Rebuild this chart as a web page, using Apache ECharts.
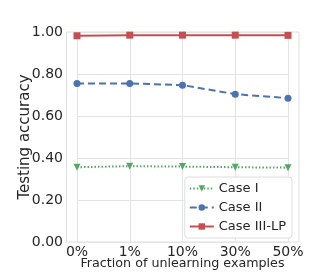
<!DOCTYPE html>
<html><head><meta charset="utf-8">
<script src="https://cdn.jsdelivr.net/npm/echarts@6/dist/echarts.min.js"></script>
<style>html,body{margin:0;padding:0;background:#fff}#c{width:332px;height:272px}</style>
</head><body><div id="c"></div>
<script>
const categories = ['0%', '1%', '10%', '30%', '50%'];
const caseI = [0.356, 0.361, 0.359, 0.356, 0.354];
const caseII = [0.755, 0.755, 0.747, 0.704, 0.685];
const caseIIILP = [0.982, 0.985, 0.985, 0.985, 0.984];
const yTicks = [0, 0.2, 0.4, 0.6, 0.8, 1.0];

const font = 'DejaVu Sans';
const txt = '#262626';
const gridC = '#e3e3e3';
const chart = echarts.init(document.getElementById('c'), null, {renderer: 'canvas'});
chart.setOption({
  animation: false,
  textStyle: {fontFamily: font, color: txt},
  grid: [
    {left: 77, right: 44, top: 32, bottom: 30, show: false, containLabel: false, outerBoundsMode: 'none'},
    {left: 66.5, right: 33, top: 32, bottom: 30, show: true, borderColor: '#dedede', borderWidth: 1,
     backgroundColor: 'transparent', z: 0, containLabel: false, outerBoundsMode: 'none'}
  ],
  xAxis: [
    {type: 'category', data: categories, boundaryGap: false, gridIndex: 0,
     name: 'Fraction of unlearning examples', nameLocation: 'middle', nameGap: 15.5, nameMoveOverlap: false,
     nameTextStyle: {fontFamily: font, fontSize: 12.7, color: txt},
     axisLine: {show: false}, axisTick: {show: false},
     axisLabel: {fontFamily: font, fontSize: 14, color: txt, margin: 3},
     splitLine: {show: true, lineStyle: {color: gridC, width: 1}}},
    {type: 'value', gridIndex: 1, show: false}
  ],
  yAxis: [
    {type: 'value', gridIndex: 0, min: 0, max: 1, interval: 0.2,
     name: 'Testing accuracy', nameLocation: 'middle', nameGap: 44, nameMoveOverlap: false,
     nameTextStyle: {fontFamily: font, fontSize: 15, color: txt},
     axisLine: {show: false}, axisTick: {show: false},
     axisLabel: {fontFamily: font, fontSize: 14, color: txt, margin: 14,
       formatter: v => v.toFixed(2)},
     splitLine: {show: true, lineStyle: {color: gridC, width: 1}}},
    {type: 'value', gridIndex: 1, show: false}
  ],
  legend: {
    right: 40, top: 177, orient: 'vertical', itemWidth: 24, itemHeight: 8, itemGap: 6,
    backgroundColor: '#fff', borderColor: '#dedede', borderWidth: 1, borderRadius: 3,
    padding: [5, 6, 5, 4],
    textStyle: {fontFamily: font, fontSize: 13, color: txt},
    data: ['Case I', 'Case II', 'Case III-LP']
  },
  series: [
    {name: 'Case I', type: 'line', data: caseI, color: '#55a868',
     symbol: 'triangle', symbolRotate: 180, symbolSize: 7,
     lineStyle: {width: 2, type: [1.5, 2]}, itemStyle: {color: '#55a868'}},
    {name: 'Case II', type: 'line', data: caseII, color: '#4c72b0',
     symbol: 'circle', symbolSize: 7,
     lineStyle: {width: 2, type: [7, 4]}, itemStyle: {color: '#4c72b0'}},
    {name: 'Case III-LP', type: 'line', data: caseIIILP, color: '#c44e52',
     symbol: 'rect', symbolSize: 7,
     lineStyle: {width: 2}, itemStyle: {color: '#c44e52'}}
  ]
});
</script></body></html>
